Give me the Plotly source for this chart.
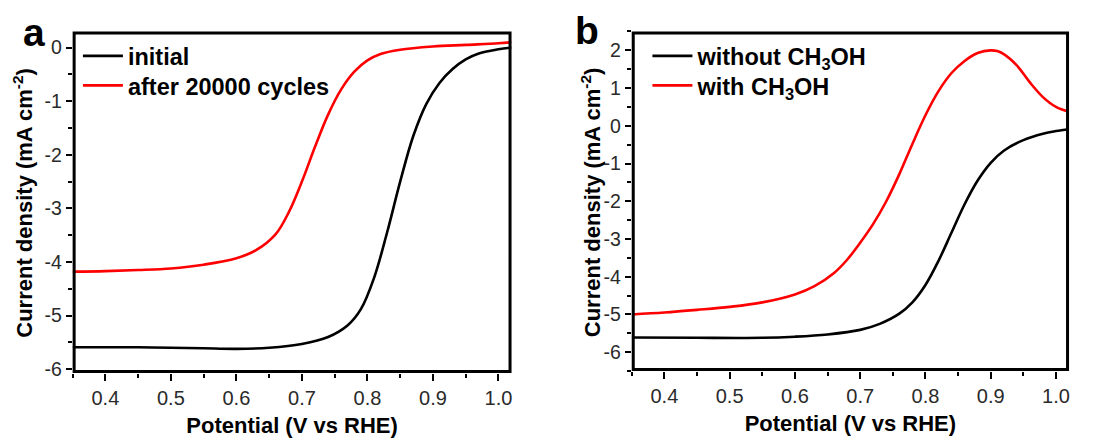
import plotly.graph_objects as go

# ---- data ----
pot_a = [0.35, 0.40, 0.45, 0.50, 0.55, 0.60, 0.65, 0.70, 0.74, 0.77, 0.79, 0.81, 0.83, 0.85, 0.87, 0.89, 0.91, 0.93, 0.95, 0.97, 1.00, 1.02]
initial = [-5.59, -5.59, -5.59, -5.60, -5.61, -5.62, -5.60, -5.53, -5.40, -5.18, -4.88, -4.30, -3.45, -2.50, -1.65, -1.05, -0.66, -0.40, -0.22, -0.11, -0.03, 0.00]

pot_a2 = [0.35, 0.40, 0.45, 0.50, 0.55, 0.60, 0.63, 0.66, 0.68, 0.70, 0.72, 0.74, 0.76, 0.78, 0.80, 0.82, 0.85, 0.90, 0.95, 1.00, 1.02]
after = [-4.18, -4.17, -4.15, -4.12, -4.05, -3.93, -3.78, -3.48, -3.07, -2.50, -1.85, -1.25, -0.78, -0.45, -0.24, -0.12, -0.04, 0.02, 0.05, 0.08, 0.10]

pot_b = [0.35, 0.45, 0.55, 0.60, 0.65, 0.70, 0.73, 0.76, 0.78, 0.80, 0.82, 0.84, 0.86, 0.88, 0.90, 0.92, 0.95, 0.98, 1.00, 1.02]
without_meoh = [-5.61, -5.62, -5.62, -5.59, -5.53, -5.41, -5.25, -4.98, -4.68, -4.22, -3.58, -2.83, -2.08, -1.45, -0.98, -0.66, -0.38, -0.21, -0.14, -0.09]

pot_b2 = [0.35, 0.40, 0.45, 0.50, 0.55, 0.60, 0.63, 0.66, 0.68, 0.70, 0.72, 0.74, 0.76, 0.78, 0.80, 0.82, 0.84, 0.86, 0.88, 0.90, 0.91, 0.92, 0.94, 0.96, 0.98, 1.00, 1.02]
with_meoh = [-5.00, -4.95, -4.88, -4.80, -4.68, -4.47, -4.25, -3.90, -3.55, -3.10, -2.60, -2.00, -1.28, -0.48, 0.28, 0.92, 1.40, 1.72, 1.93, 2.00, 1.98, 1.90, 1.60, 1.15, 0.76, 0.50, 0.37]

x_range = [0.35, 1.02]
ya_range = [-6.07, 0.3]
yb_range = [-6.5, 2.5]
x_ticks = [0.4, 0.5, 0.6, 0.7, 0.8, 0.9, 1.0]
ya_ticks = [0, -1, -2, -3, -4, -5, -6]
yb_ticks = [2, 1, 0, -1, -2, -3, -4, -5, -6]

FONT = "Liberation Sans, Arial, sans-serif"
W, H = 1111, 441

# subplot boxes in pixels (left, right, top, bottom)
BOX_A = (72.7, 512.0, 32.0, 379.0)
BOX_B = (632.3, 1070.0, 32.0, 377.0)

def dom_x(b):
    return [b[0] / W, b[1] / W]

def dom_y(b):
    return [1 - b[3] / H, 1 - b[2] / H]

fig = go.Figure()
LW = 2.6
fig.add_trace(go.Scatter(x=pot_a, y=initial, mode="lines", name="initial",
                         line=dict(color="black", width=LW, shape="spline", smoothing=1),
                         xaxis="x", yaxis="y", legend="legend"))
fig.add_trace(go.Scatter(x=pot_a2, y=after, mode="lines", name="after 20000 cycles",
                         line=dict(color="#ff0000", width=LW, shape="spline", smoothing=1),
                         xaxis="x", yaxis="y", legend="legend2"))
fig.add_trace(go.Scatter(x=pot_b, y=without_meoh, mode="lines", name="without CH<sub>3</sub>OH",
                         line=dict(color="black", width=LW, shape="spline", smoothing=1),
                         xaxis="x2", yaxis="y2", legend="legend3"))
fig.add_trace(go.Scatter(x=pot_b2, y=with_meoh, mode="lines", name="with CH<sub>3</sub>OH",
                         line=dict(color="#ff0000", width=LW, shape="spline", smoothing=1),
                         xaxis="x2", yaxis="y2", legend="legend4"))

# plot frames along the axis ranges (lines are clipped to the plot area, so half the width shows)
for xa, ya, yr in (("x", "y", ya_range), ("x2", "y2", yb_range)):
    fig.add_trace(go.Scatter(
        x=[x_range[0], x_range[1], x_range[1], x_range[0], x_range[0]],
        y=[yr[0], yr[0], yr[1], yr[1], yr[0]],
        mode="lines", line=dict(color="black", width=6),
        showlegend=False, hoverinfo="skip", cliponaxis=False,
        xaxis=xa, yaxis=ya))

def xaxis(domain, anchor):
    return dict(domain=domain, anchor=anchor, range=x_range,
                tickvals=x_ticks, ticktext=[f"{v:.1f}" for v in x_ticks],
                showline=False,
                ticks="outside", ticklen=7, tickwidth=2, tickcolor="black",
                minor=dict(ticks="outside", ticklen=4, tickwidth=2, tickcolor="black", dtick=0.05, tick0=0.35),
                showgrid=False, zeroline=False,
                tickfont=dict(family=FONT, size=20, color="#2a2a2a"),
                title=dict(text="<b>Potential (V vs RHE)</b>", font=dict(family=FONT, size=22, color="black"), standoff=9))

def yaxis(domain, anchor, rng, ticks):
    return dict(domain=domain, anchor=anchor, range=rng,
                tickvals=ticks, ticktext=[str(v) for v in ticks],
                showline=False,
                ticks="outside", ticklen=6, tickwidth=2, tickcolor="black",
                minor=dict(ticks="outside", ticklen=4, tickwidth=2, tickcolor="black", dtick=0.5, tick0=0),
                showgrid=False, zeroline=False,
                tickfont=dict(family=FONT, size=19.5, color="#2a2a2a"))

def leg(xpx, ypx):
    return dict(x=xpx / W, y=1 - ypx / H, xanchor="left", yanchor="middle",
                bgcolor="rgba(0,0,0,0)", borderwidth=0,
                font=dict(family=FONT, size=23.5, color="black", weight="bold"),
                itemwidth=40)

YTITLE = "<b>Current density (mA cm<sup>-2</sup>)</b>"

fig.update_layout(
    width=W, height=H, margin=dict(l=0, r=0, t=0, b=0),
    paper_bgcolor="white", plot_bgcolor="white",
    font=dict(family=FONT, color="black"),
    xaxis=xaxis(dom_x(BOX_A), "y"),
    yaxis=yaxis(dom_y(BOX_A), "x", ya_range, ya_ticks),
    xaxis2=xaxis(dom_x(BOX_B), "y2"),
    yaxis2=yaxis(dom_y(BOX_B), "x2", yb_range, yb_ticks),
    legend=leg(78, 57), legend2=leg(78, 87),
    legend3=leg(648, 57), legend4=leg(648, 87),
    annotations=[
        dict(text="<b>a</b>", x=21 / W, y=1 - 9 / H, xref="paper", yref="paper",
             xanchor="left", yanchor="top", showarrow=False,
             font=dict(family=FONT, size=39, color="black")),
        dict(text="<b>b</b>", x=574 / W, y=1 - 7 / H, xref="paper", yref="paper",
             xanchor="left", yanchor="top", showarrow=False,
             font=dict(family=FONT, size=39, color="black")),
        dict(text=YTITLE, x=23 / W, y=1 - 206 / H, xref="paper", yref="paper",
             xanchor="center", yanchor="middle", textangle=-90, showarrow=False,
             font=dict(family=FONT, size=22, color="black")),
        dict(text=YTITLE, x=591 / W, y=1 - 205 / H, xref="paper", yref="paper",
             xanchor="center", yanchor="middle", textangle=-90, showarrow=False,
             font=dict(family=FONT, size=22, color="black")),
    ],
    showlegend=True,
)

fig.write_html("out.html")
